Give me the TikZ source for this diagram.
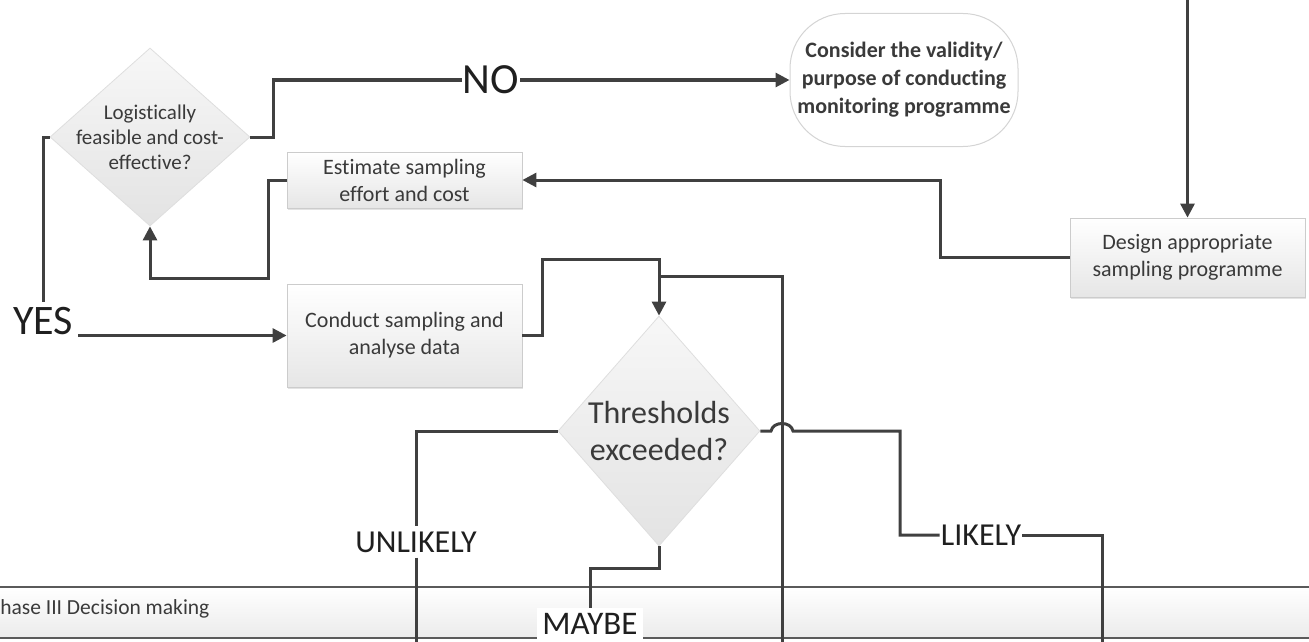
\documentclass[tikz,border=0pt]{standalone}
\usepackage{fontspec}
\setmainfont{Carlito}[Ligatures=NoCommon]
\usetikzlibrary{arrows.meta,shapes.geometric,shadows}
\definecolor{ln}{HTML}{404040}
\definecolor{txt}{HTML}{3A3A3A}
\definecolor{lbltxt}{HTML}{1F1F1F}
\definecolor{boxb}{HTML}{CCCCCC}
\definecolor{boxf}{HTML}{E6E6E6}
\definecolor{diab}{HTML}{DEDEDE}
\definecolor{diat}{HTML}{F7F7F7}
\definecolor{diaf}{HTML}{E3E3E3}
\definecolor{consb}{HTML}{D4D4D4}
\definecolor{bandf}{HTML}{EBEBEB}
\definecolor{bandl}{HTML}{5A5A5A}
\begin{document}
\begin{tikzpicture}[x=1pt,y=-1pt,
  conn/.style={draw=ln, line width=3pt},
  arr/.style={conn, -{Triangle[length=14pt,width=14pt]}},
  box/.style={draw=boxb, line width=0.8pt, top color=white, bottom color=boxf,
    minimum width=235pt, align=center, text=txt,
    font=\fontsize{22}{27}\selectfont,
    drop shadow={opacity=0.22, shadow xshift=1pt, shadow yshift=-2pt}},
  dia/.style={diamond, draw=diab, line width=0.8pt, top color=diat, bottom color=diaf, inner sep=0pt},
  lbl/.style={text=lbltxt, inner sep=1pt}
]
\clip (0,0) rectangle (1309,642);
% phase band
\fill[top color=white, bottom color=bandf] (0,587) rectangle (1309,638);
\draw[bandl, line width=1.6pt] (0,587) -- (1309,587);
\draw[bandl, line width=1.6pt] (0,638) -- (1309,638);
\node[anchor=west, font=\fontsize{21.5}{26}\selectfont, text=txt, inner sep=0pt] (ph) at (-11,609) {Phase III Decision making};

% nodes
\node[box, minimum height=56pt] (est) at (404.5,180) {Estimate sampling\\effort and cost};
\node[box, minimum height=103pt] (cond) at (404.5,335.5) {Conduct sampling and\\analyse data};
\node[box, minimum height=79pt] (des) at (1187.5,257.5) {Design appropriate\\sampling programme};
\node[draw=consb, line width=1pt, fill=white, rounded corners=55pt, minimum width=228pt,
  minimum height=133pt, align=center, text=txt,
  font=\bfseries\fontsize{22}{28}\selectfont] (cons) at (904,80)
  {Consider the validity/\\purpose of conducting\\monitoring programme};
\node[dia, minimum width=200pt, minimum height=178pt,
  label={[align=center, text=txt, font=\fontsize{21}{25}\selectfont]center:{Logistically\\feasible and cost-\\effective?}}] (d1) at (150,137) {};
\node[dia, minimum width=202pt, minimum height=230pt,
  label={[align=center, text=txt, font=\fontsize{32}{37}\selectfont]center:{Thresholds\\exceeded?}}] (d2) at (659,431) {};

% labels
\node[lbl, font=\fontsize{43}{43}\selectfont] (no) at (491,80) {NO};
\node[lbl, font=\fontsize{42}{42}\selectfont, inner sep=5pt] (yes) at (43,321) {YES};
\node[lbl, font=\fontsize{32}{32}\selectfont, inner sep=5pt] (unl) at (416,542) {UNLIKELY};
\node[lbl, font=\fontsize{32}{32}\selectfont, inner sep=1pt] (lik) at (981,535) {LIKELY};
\node[lbl, font=\fontsize{33}{33}\selectfont, fill=white, inner sep=5pt] (may) at (590,624) {MAYBE};

% free ends
\coordinate (topin) at (1187.5,0);
\coordinate (j1) at (659,276);
\coordinate (b1) at (416,642);
\coordinate (b2) at (782,642);
\coordinate (b3) at (1102,642);

% connectors
\draw[arr] (topin) -- (des.north);
\draw[arr] (des.west) -- (940,257.5) |- (est.east);
\draw[arr] (est.west) -- (268,180) -- (268,278) -| (d1.south);
\draw[conn] (d1.east) -- (273,137) |- (no.west);
\draw[arr] (no.east) -- (cons.west);
\draw[conn] (d1.west) -| (yes.north);
\draw[arr] (yes.east |- cond.west) -- (cond.west);
\draw[arr] (cond.east) -- (542,335.5) |- (659,259) -- (d2.north);
\draw[conn] (b2) |- (j1);
\draw[conn] (d2.west) -| (unl.north);
\draw[conn] (unl.south) -- (b1);
\draw[conn] (d2.south) -- (659,568) -| (may.north);
\draw[conn] (d2.east) -- (771,431) .. controls (773,421) and (791,421) .. (793,431) -- (900,431) |- (lik.west);
\draw[conn] (lik.east) -| (b3);
\end{tikzpicture}
\end{document}
